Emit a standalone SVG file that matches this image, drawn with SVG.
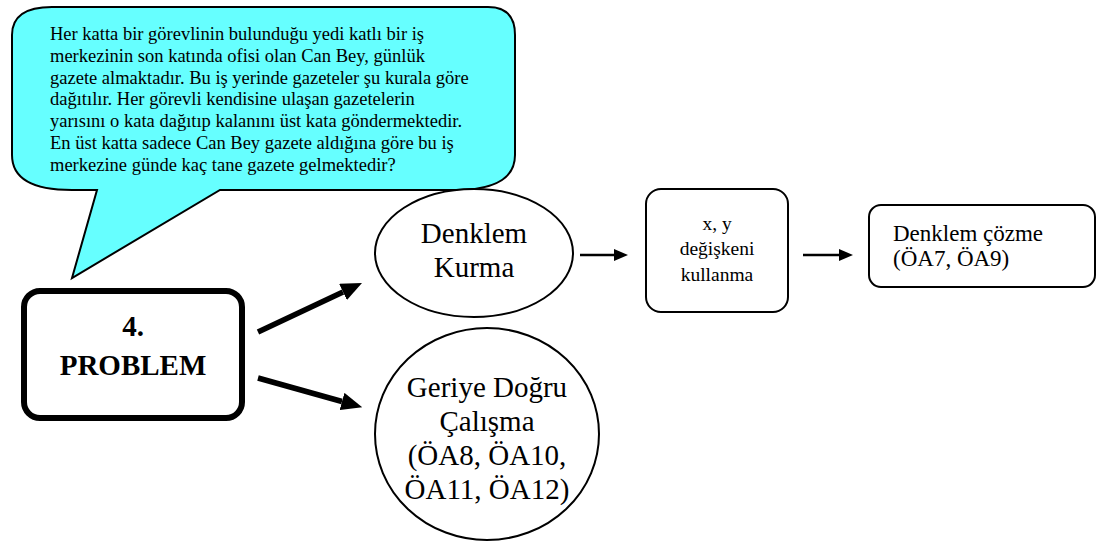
<svg xmlns="http://www.w3.org/2000/svg" width="1097" height="542" viewBox="0 0 1097 542">
<style>
text{font-family:"Liberation Serif","Times New Roman",serif;fill:#000}
.ct{font-size:18.5px}
.big{font-size:29px;text-anchor:middle}
.mid{font-size:19.5px;text-anchor:middle}
.sm{font-size:23px}
.thin{stroke:#000;stroke-width:2.5;fill:none}
.thick{stroke:#000;stroke-width:5.5;fill:none}
</style>
<defs>
<marker id="ah" viewBox="0 -6 14 12" markerWidth="14" markerHeight="12" refX="0" refY="0" orient="auto" markerUnits="userSpaceOnUse"><path d="M0,-6 L14,0 L0,6 Z" fill="#000"/></marker>
<marker id="ahb" viewBox="0 -9 21 18" markerWidth="21" markerHeight="18" refX="0" refY="0" orient="auto" markerUnits="userSpaceOnUse"><path d="M0,-9 L21,0 L0,9 Z" fill="#000"/></marker>
</defs>
<g id="callout">
<path d="M52,7 H488 Q515,7 515,35 V155 Q515,190 455,190 H220 L72,278 L97,190 H72 Q12,190 12,155 V35 Q12,7 52,7 Z" fill="#66FFFF" stroke="#000" stroke-width="2"/>
<text class="ct" x="50" y="40">Her katta bir görevlinin bulunduğu yedi katlı bir iş</text>
<text class="ct" x="50" y="62">merkezinin son katında ofisi olan Can Bey, günlük</text>
<text class="ct" x="50" y="84">gazete almaktadır. Bu iş yerinde gazeteler şu kurala göre</text>
<text class="ct" x="50" y="105">dağıtılır. Her görevli kendisine ulaşan gazetelerin</text>
<text class="ct" x="50" y="127">yarısını o kata dağıtıp kalanını üst kata göndermektedir.</text>
<text class="ct" x="50" y="149">En üst katta sadece Can Bey gazete aldığına göre bu iş</text>
<text class="ct" x="50" y="171">merkezine günde kaç tane gazete gelmektedir?</text>
</g>
<g id="problem">
<rect x="24" y="291" width="218" height="127" rx="16" fill="#fff" stroke="#000" stroke-width="6"/>
<text class="big" x="133" y="336" font-weight="bold">4.</text>
<text class="big" x="133" y="375" font-weight="bold">PROBLEM</text>
</g>
<g id="denklem-kurma">
<ellipse cx="474" cy="253" rx="99" ry="64" fill="#fff" stroke="#000" stroke-width="2"/>
<text class="big" x="474" y="243">Denklem</text>
<text class="big" x="474" y="277">Kurma</text>
</g>
<g id="geriye">
<ellipse cx="487" cy="434" rx="112" ry="106" fill="#fff" stroke="#000" stroke-width="2"/>
<text class="big" x="487" y="397">Geriye Doğru</text>
<text class="big" x="487" y="431">Çalışma</text>
<text class="big" x="487" y="465">(ÖA8, ÖA10,</text>
<text class="big" x="487" y="499">ÖA11, ÖA12)</text>
</g>
<g id="xy">
<rect x="646" y="189" width="142" height="123" rx="15" fill="#fff" stroke="#000" stroke-width="2"/>
<text class="mid" x="717" y="230">x, y</text>
<text class="mid" x="717" y="255">değişkeni</text>
<text class="mid" x="717" y="281">kullanma</text>
</g>
<g id="cozme">
<rect x="869" y="205" width="226" height="82" rx="12" fill="#fff" stroke="#000" stroke-width="2"/>
<text class="sm" x="893" y="241">Denklem çözme</text>
<text class="sm" x="893" y="266">(ÖA7, ÖA9)</text>
</g>
<g id="connectors">
<line class="thick" x1="258" y1="332" x2="343" y2="292" marker-end="url(#ahb)"/>
<line class="thick" x1="258" y1="378" x2="342" y2="401.5" marker-end="url(#ahb)"/>
<line class="thin" x1="580" y1="255" x2="614" y2="255" marker-end="url(#ah)"/>
<line class="thin" x1="803" y1="255" x2="839" y2="255" marker-end="url(#ah)"/>
</g>
</svg>
